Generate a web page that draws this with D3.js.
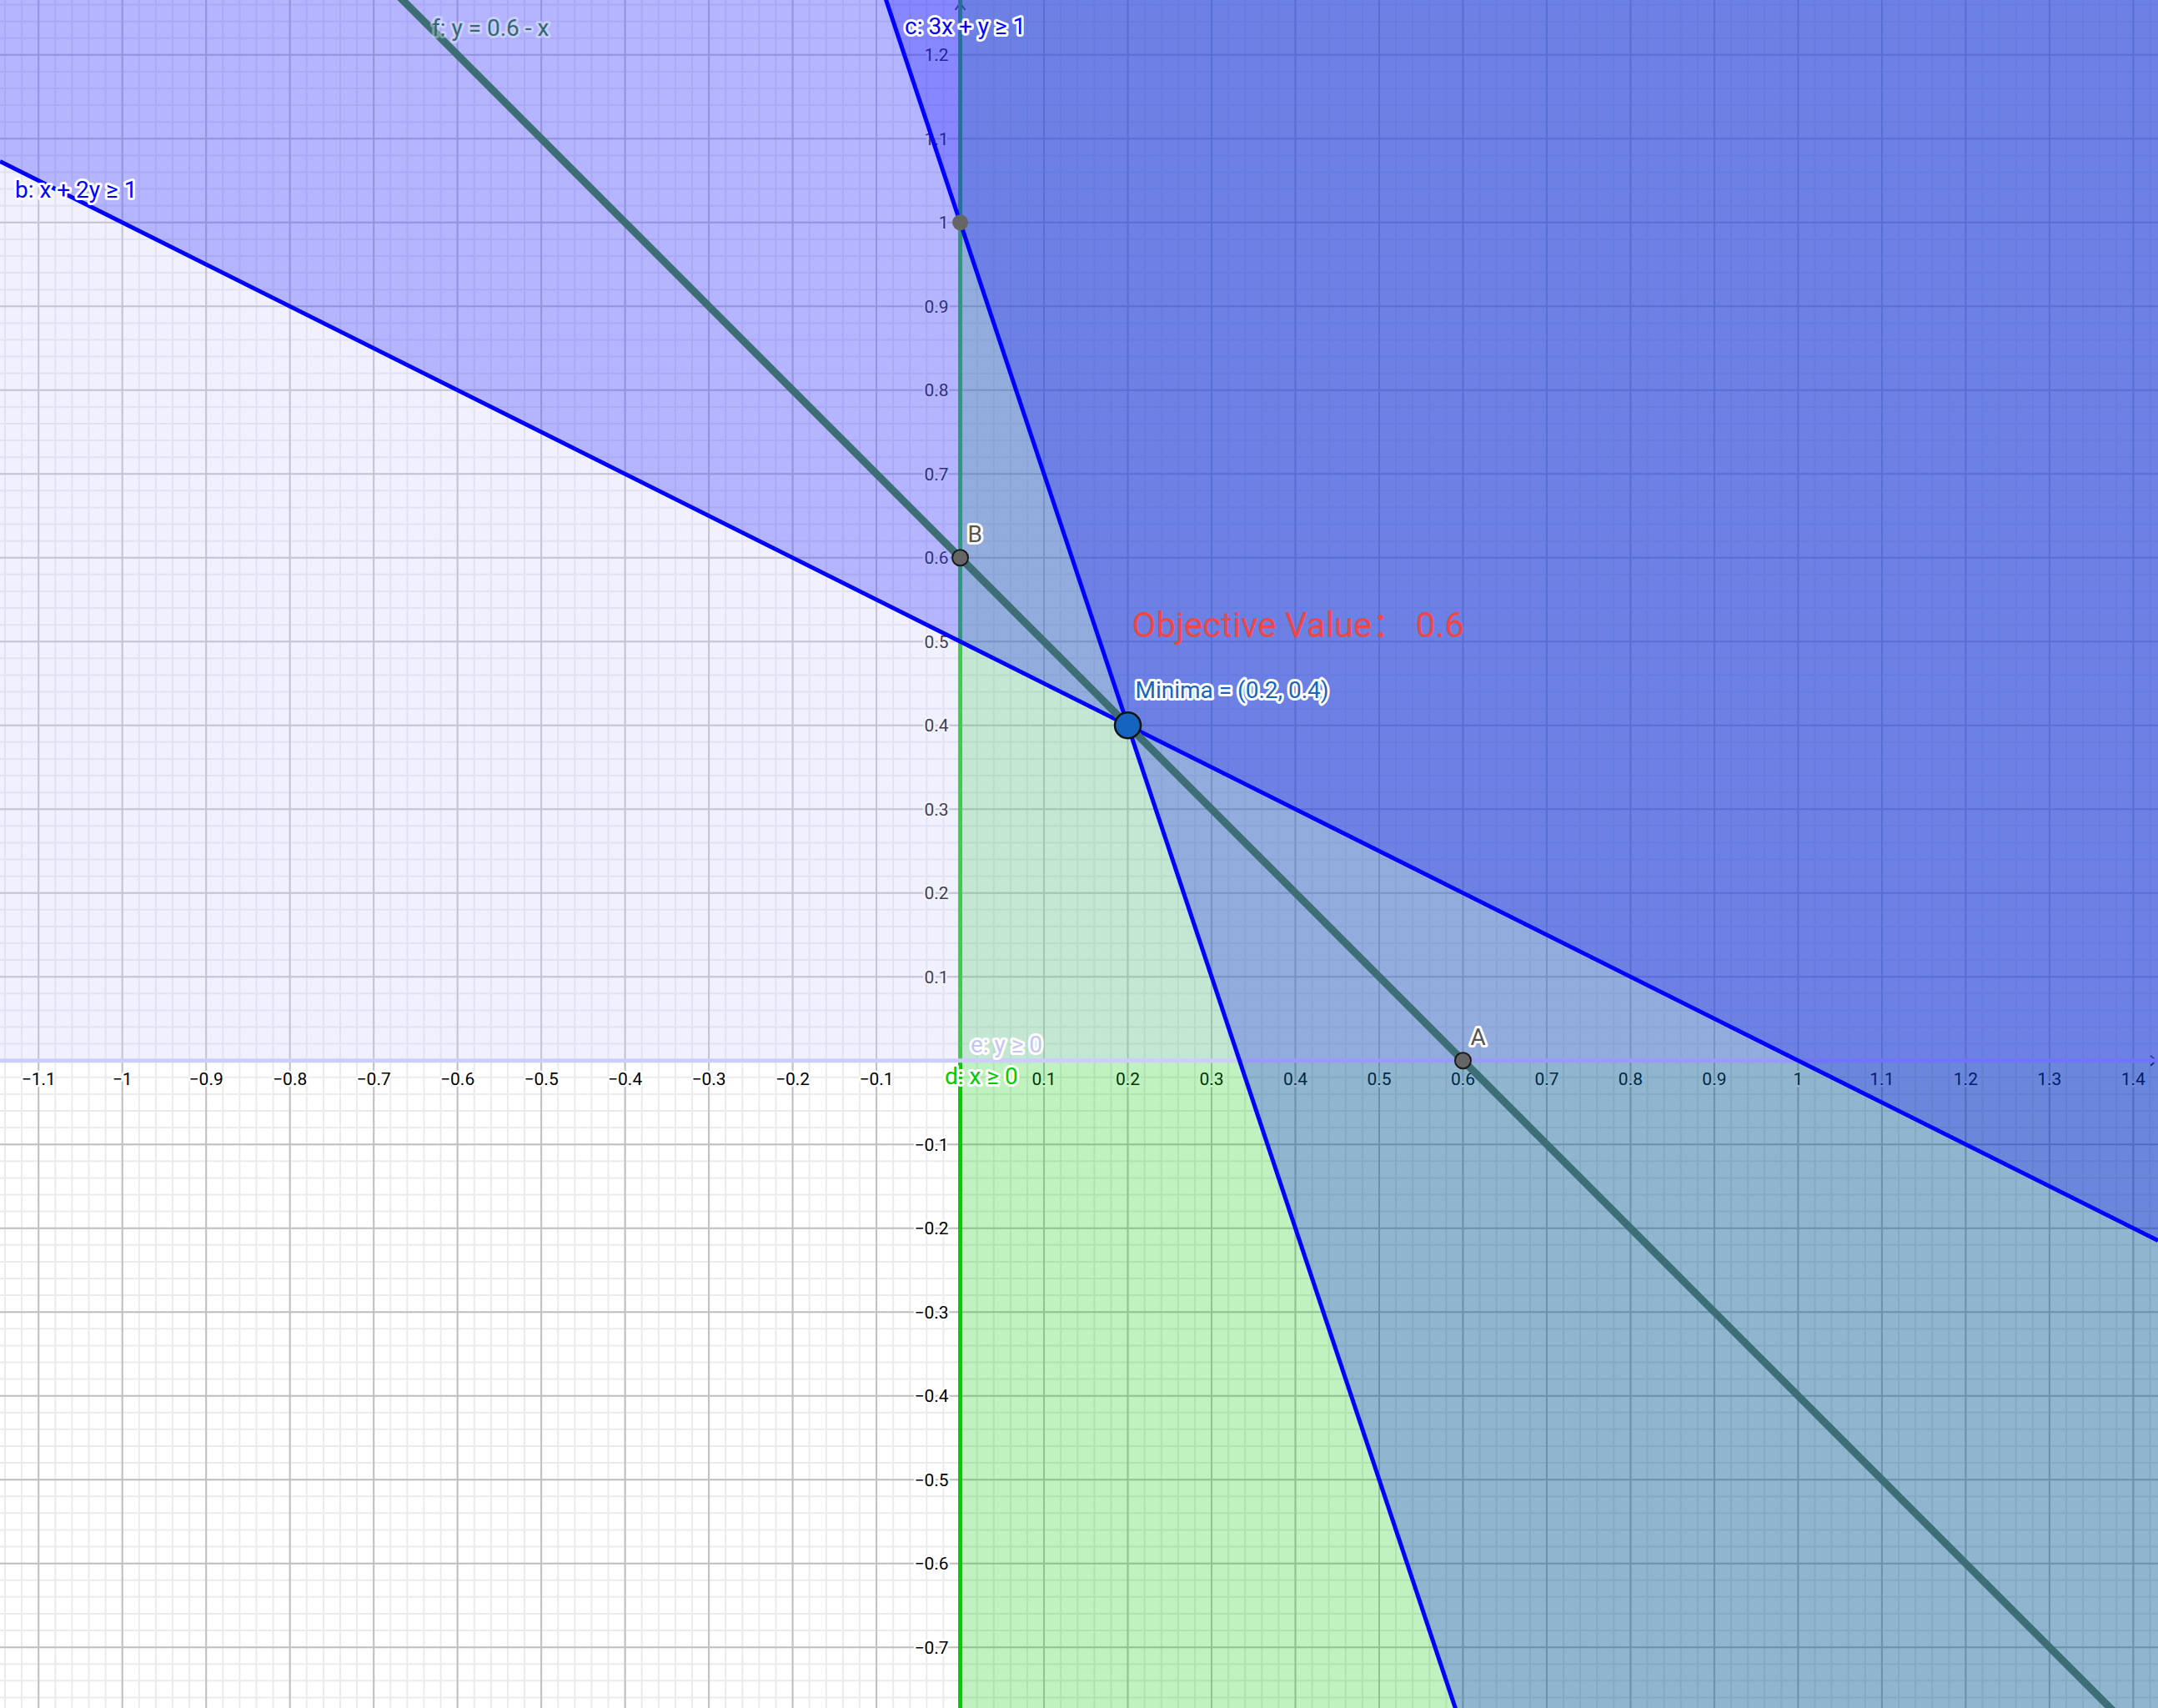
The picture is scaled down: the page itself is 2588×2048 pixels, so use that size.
<!DOCTYPE html>
<html><head><meta charset="utf-8">
<script src="https://cdn.jsdelivr.net/npm/d3@7"></script>
<style>html,body{margin:0;padding:0;background:#fff;overflow:hidden}</style>
</head><body>
<svg id="chart" width="2588" height="2048"></svg>
<script>
// ---- data: constraints a*x + b*y >= rhs (drawn in this order) ----
const constraintNames = ["d", "e", "b", "c"];
const constraintLabels = ["d: x ≥ 0", "e: y ≥ 0", "b: x + 2y ≥ 1", "c: 3x + y ≥ 1"];
const coefX = [1, 0, 1, 3];
const coefY = [0, 1, 2, 1];
const rhs = [0, 0, 1, 1];
// objective line f: y = 0.6 - x
const objectiveLabel = "f: y = 0.6 - x";
const objectiveSlope = -1;
const objectiveIntercept = 0.6;
const objectiveText = "Objective Value：  0.6";
const minimaX = 0.2, minimaY = 0.4;
const minimaText = "Minima = (0.2, 0.4)";
const pointNames = ["A", "B", ""];
const pointX = [0.6, 0, 0];
const pointY = [0, 0.6, 1];
const xTicks = [-1.1,-1,-0.9,-0.8,-0.7,-0.6,-0.5,-0.4,-0.3,-0.2,-0.1,0.1,0.2,0.3,0.4,0.5,0.6,0.7,0.8,0.9,1,1.1,1.2,1.3,1.4];
const xTickLabels = ["−1.1","−1","−0.9","−0.8","−0.7","−0.6","−0.5","−0.4","−0.3","−0.2","−0.1","0.1","0.2","0.3","0.4","0.5","0.6","0.7","0.8","0.9","1","1.1","1.2","1.3","1.4"];
const yTicks = [-0.7,-0.6,-0.5,-0.4,-0.3,-0.2,-0.1,0.1,0.2,0.3,0.4,0.5,0.6,0.7,0.8,0.9,1,1.1,1.2];
const yTickLabels = ["−0.7","−0.6","−0.5","−0.4","−0.3","−0.2","−0.1","0.1","0.2","0.3","0.4","0.5","0.6","0.7","0.8","0.9","1","1.1","1.2"];

// ---- styles ----
const fillColors = ["rgb(0,204,0)", "rgb(204,204,255)", "rgb(0,0,255)", "rgb(0,0,255)"];
const fillOpacity = [0.25, 0.3, 0.25, 0.25];
const lineColors = ["#00cc00", "#ccccff", "#0000ff", "#0000ff"];
const FONT = "Roboto, 'Noto Sans', 'Noto Sans CJK SC', sans-serif";

const W = 2588, H = 2048;
const xDomain = [-1.146, 1.4295], yDomain = [-0.7725, 1.2655];
const x = d3.scaleLinear().domain(xDomain).range([0, W]);
const y = d3.scaleLinear().domain(yDomain).range([H, 0]);
const svg = d3.select("#chart");

// background grid
const bg = svg.append("g");
const minorX = d3.range(-57, 72).map(i => i * 0.02);
const minorY = d3.range(-38, 64).map(i => i * 0.02);
bg.selectAll(".mx").data(minorX).join("line").attr("x1", d => x(d)).attr("x2", d => x(d))
  .attr("y1", 0).attr("y2", H).attr("stroke", "#ebebeb").attr("stroke-width", 2);
bg.selectAll(".my").data(minorY).join("line").attr("y1", d => y(d)).attr("y2", d => y(d))
  .attr("x1", 0).attr("x2", W).attr("stroke", "#ebebeb").attr("stroke-width", 2);
const majorX = d3.range(-11, 15).map(i => i / 10);
const majorY = d3.range(-7, 13).map(i => i / 10);
bg.selectAll(".Mx").data(majorX).join("line").attr("x1", d => x(d)).attr("x2", d => x(d))
  .attr("y1", 0).attr("y2", H).attr("stroke", "#c0c0c0").attr("stroke-width", 2);
bg.selectAll(".My").data(majorY).join("line").attr("y1", d => y(d)).attr("y2", d => y(d))
  .attr("x1", 0).attr("x2", W).attr("stroke", "#c0c0c0").attr("stroke-width", 2);

// axes
const ax = bg.append("g").attr("stroke", "#252525").attr("stroke-width", 2).attr("fill", "none");
ax.append("line").attr("x1", 0).attr("x2", W).attr("y1", y(0)).attr("y2", y(0));
ax.append("line").attr("x1", x(0)).attr("x2", x(0)).attr("y1", 0).attr("y2", H);
ax.append("path").attr("d", `M${x(0)-6},${12} L${x(0)},${4} L${x(0)+6},${12}`);
ax.append("path").attr("d", `M${W-9},${y(0)-6} L${W-2},${y(0)} L${W-9},${y(0)+6}`);

// tick labels (with white halo)
const tl = bg.append("g").attr("font-family", FONT).attr("font-size", 21).attr("fill", "#000")
  .attr("stroke", "#fff").attr("stroke-width", 5).attr("paint-order", "stroke").attr("stroke-linejoin", "round");
tl.selectAll(".xt").data(xTicks).join("text").attr("x", d => x(d)).attr("y", y(0) + 29.5)
  .attr("text-anchor", "middle").text((d, i) => xTickLabels[i]);
tl.selectAll(".yt").data(yTicks).join("text").attr("x", x(0) - 14).attr("y", d => y(d) + 7.5)
  .attr("text-anchor", "end").text((d, i) => yTickLabels[i]);
tl.append("text").attr("x", x(0) - 6).attr("y", y(0) + 29.5).attr("text-anchor", "end").text("0");

// half-plane polygons
function clipHalfPlane(poly, a, b, r) {
  const out = [];
  const f = p => a * p[0] + b * p[1] - r;
  for (let i = 0; i < poly.length; i++) {
    const P = poly[i], Q = poly[(i + 1) % poly.length];
    const fp = f(P), fq = f(Q);
    if (fp >= 0) out.push(P);
    if ((fp >= 0) !== (fq >= 0)) {
      const t = fp / (fp - fq);
      out.push([P[0] + t * (Q[0] - P[0]), P[1] + t * (Q[1] - P[1])]);
    }
  }
  return out;
}
const view = [[xDomain[0], yDomain[0]], [xDomain[1], yDomain[0]], [xDomain[1], yDomain[1]], [xDomain[0], yDomain[1]]];
const line = d3.line().x(d => x(d[0])).y(d => y(d[1]));
function boundary(a, b, r) {
  if (b === 0) return [[r / a, yDomain[0]], [r / a, yDomain[1]]];
  return [[xDomain[0], (r - a * xDomain[0]) / b], [xDomain[1], (r - a * xDomain[1]) / b]];
}
const layers = svg.append("g");
constraintNames.forEach((n, i) => {
  const poly = clipHalfPlane(view, coefX[i], coefY[i], rhs[i]);
  layers.append("path").attr("d", line(poly) + "Z").attr("fill", fillColors[i]).attr("fill-opacity", fillOpacity[i]);
  layers.append("path").attr("d", line(boundary(coefX[i], coefY[i], rhs[i])))
    .attr("stroke", lineColors[i]).attr("stroke-width", 5).attr("fill", "none");
});

// objective line
const objPts = [xDomain[0], xDomain[1]].map(v => [v, objectiveIntercept + objectiveSlope * v]);
svg.append("path").attr("d", line(objPts)).attr("stroke", "#3d6e75").attr("stroke-width", 9).attr("fill", "none");

// labels of lines
const lab = svg.append("g").attr("font-family", FONT).attr("font-size", 28)
  .attr("paint-order", "stroke").attr("stroke-linejoin", "round");
const labelPlace = {d: [1133, 1300], e: [1164, 1262], b: [18, 237], c: [1085, 41]};
const labelColors = {d: "#00cc00", e: "#c4c4f4", b: "#0000ff", c: "#0000ff"};
constraintNames.forEach((n, i) => {
  lab.append("text").attr("x", labelPlace[n][0]).attr("y", labelPlace[n][1])
    .attr("fill", labelColors[n]).attr("stroke", "#fff").attr("stroke-width", 6).text(constraintLabels[i]);
});
lab.append("text").attr("x", 518).attr("y", 43).attr("fill", "#2f6a70")
  .attr("stroke", "#fff").attr("stroke-opacity", 0.35).attr("stroke-width", 6).text(objectiveLabel);

// points
svg.selectAll(".pt").data(pointX).join("circle").attr("cx", d => x(d)).attr("cy", (d, i) => y(pointY[i]))
  .attr("r", 9.5).attr("fill", "#656565").attr("stroke", (d, i) => pointNames[i] ? "#1a1a1a" : "none").attr("stroke-width", 2);
svg.selectAll(".pn").data(pointX).join("text").attr("x", d => x(d) + 9).attr("y", (d, i) => y(pointY[i]) - 19)
  .attr("font-family", FONT).attr("font-size", 28).attr("fill", "#555").attr("stroke", "#fff").attr("stroke-width", 6)
  .attr("paint-order", "stroke").attr("stroke-linejoin", "round").text((d, i) => pointNames[i]);

svg.append("circle").attr("cx", x(minimaX)).attr("cy", y(minimaY)).attr("r", 15.5)
  .attr("fill", "#1565c0").attr("stroke", "#111").attr("stroke-width", 2.5);
svg.append("text").attr("x", x(minimaX) + 9).attr("y", y(minimaY) - 33)
  .attr("font-family", FONT).attr("font-size", 28).attr("fill", "#1565c0").attr("stroke", "#fff").attr("stroke-width", 6)
  .attr("paint-order", "stroke").attr("stroke-linejoin", "round").text(minimaText);
svg.append("text").attr("x", x(minimaX) + 5).attr("y", y(minimaY) - 106)
  .attr("font-family", FONT).attr("font-size", 42).attr("fill", "#f04646").text(objectiveText);
</script>
</body></html>
